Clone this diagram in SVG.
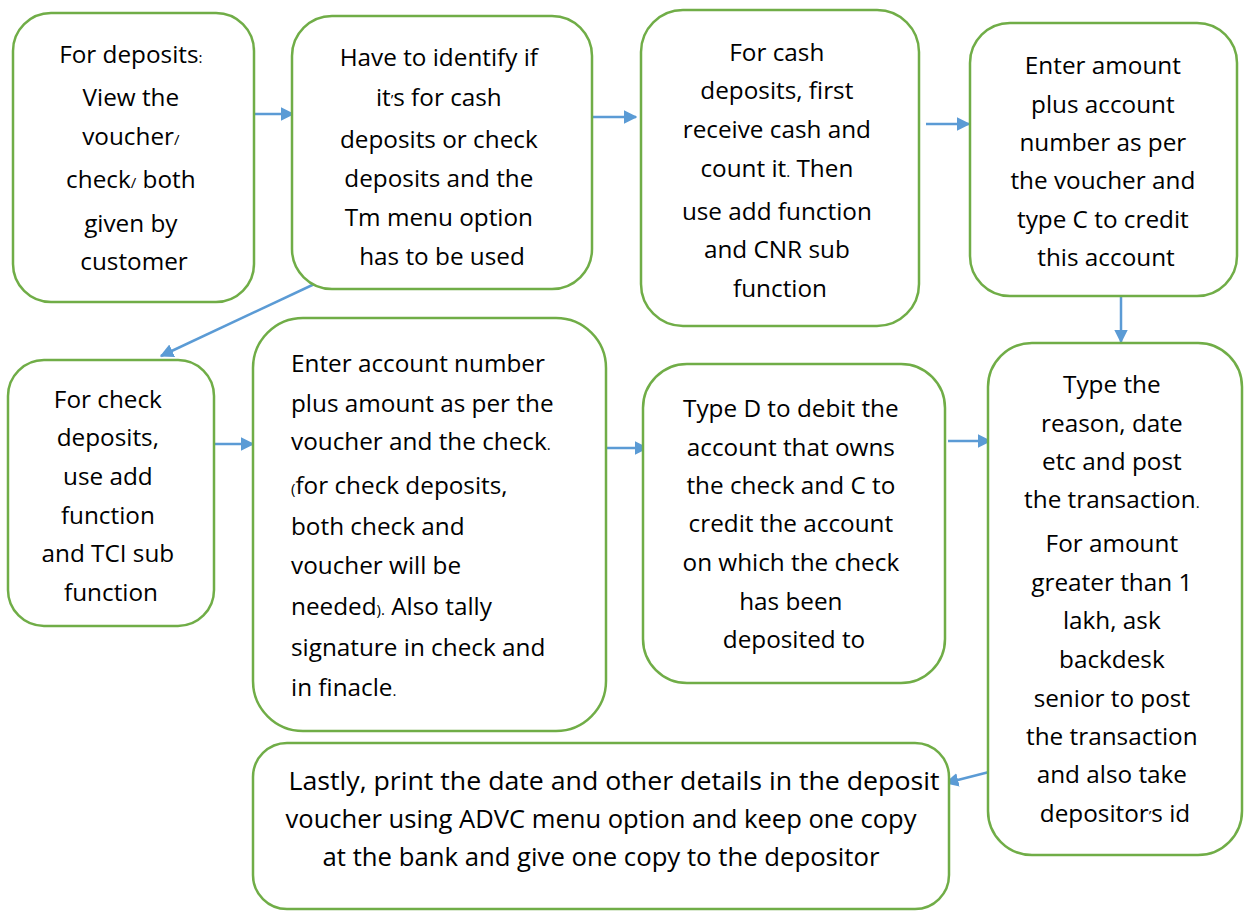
<svg xmlns="http://www.w3.org/2000/svg" width="1244" height="911" viewBox="0 0 1244 911">
  <defs>
    <marker id="arrow" viewBox="0 0 10 10" refX="9" refY="5" markerWidth="5.5" markerHeight="5.5" orient="auto" markerUnits="strokeWidth">
      <path d="M0,0 L10,5 L0,10 z" fill="#5B9BD5"/>
    </marker>
  </defs>
  <style>
    .box { fill: #ffffff; stroke: #70AD47; stroke-width: 2.5; }
    .lbl { font-family: "Open Sans", Lato, "Liberation Sans", sans-serif; font-size: 24.3px; fill: #000000; text-anchor: middle; }
    .left { text-anchor: start; }
    .wide { font-size: 25.5px; }
    .sm { font-size: 15px; }
    .conn { fill: none; stroke: #5B9BD5; stroke-width: 2.5; marker-end: url(#arrow); }
  </style>
  <rect width="1244" height="911" fill="#ffffff"/>

  <!-- connectors -->
  <g id="connectors">
    <line class="conn" x1="251" y1="114" x2="293" y2="114"/>
    <line class="conn" x1="592" y1="117" x2="636" y2="117"/>
    <line class="conn" x1="926" y1="124" x2="969" y2="124"/>
    <line class="conn" x1="1121" y1="297" x2="1121" y2="342"/>
    <line class="conn" x1="323" y1="280" x2="161" y2="356"/>
    <line class="conn" x1="211" y1="444" x2="253" y2="444"/>
    <line class="conn" x1="606" y1="448" x2="647" y2="448"/>
    <line class="conn" x1="948" y1="441" x2="990" y2="441"/>
    <line class="conn" x1="993" y1="771" x2="946" y2="783"/>
  </g>

  <!-- step: view voucher -->
  <g id="node-view">
    <rect class="box" x="13" y="13" width="241" height="289" rx="38"/>
    <text class="lbl">
      <tspan x="134" y="63">For deposits<tspan class="sm">:</tspan></tspan>
      <tspan x="134" y="106">View the</tspan>
      <tspan x="134" y="145">voucher<tspan class="sm">/</tspan></tspan>
      <tspan x="134" y="188">check<tspan class="sm">/</tspan> both</tspan>
      <tspan x="134" y="232">given by</tspan>
      <tspan x="134" y="270">customer</tspan>
    </text>
  </g>

  <!-- step: identify deposit type -->
  <g id="node-identify">
    <rect class="box" x="292" y="16" width="300" height="273" rx="40"/>
    <text class="lbl">
      <tspan x="442" y="66">Have to identify if</tspan>
      <tspan x="442" y="106">it<tspan class="sm" dy="-1">’</tspan><tspan dy="1">s for cash</tspan></tspan>
      <tspan x="442" y="148">deposits or check</tspan>
      <tspan x="442" y="187">deposits and the</tspan>
      <tspan x="442" y="226">Tm menu option</tspan>
      <tspan x="442" y="265">has to be used</tspan>
    </text>
  </g>

  <!-- step: cash deposits -->
  <g id="node-cash">
    <rect class="box" x="641" y="10" width="278" height="316" rx="42"/>
    <text class="lbl">
      <tspan x="780" y="61">For cash</tspan>
      <tspan x="780" y="99">deposits, first</tspan>
      <tspan x="780" y="138">receive cash and</tspan>
      <tspan x="780" y="177">count it<tspan class="sm">.</tspan> Then</tspan>
      <tspan x="780" y="220">use add function</tspan>
      <tspan x="780" y="258">and CNR sub</tspan>
      <tspan x="780" y="297">function</tspan>
    </text>
  </g>

  <!-- step: credit account -->
  <g id="node-credit">
    <rect class="box" x="970" y="23" width="267" height="273" rx="40"/>
    <text class="lbl">
      <tspan x="1106" y="74">Enter amount</tspan>
      <tspan x="1106" y="113">plus account</tspan>
      <tspan x="1106" y="151">number as per</tspan>
      <tspan x="1106" y="189">the voucher and</tspan>
      <tspan x="1106" y="228">type C to credit</tspan>
      <tspan x="1106" y="266">this account</tspan>
    </text>
  </g>

  <!-- step: check deposits -->
  <g id="node-check">
    <rect class="box" x="8" y="360" width="206" height="266" rx="36"/>
    <text class="lbl">
      <tspan x="111" y="408">For check</tspan>
      <tspan x="111" y="446">deposits,</tspan>
      <tspan x="111" y="485">use add</tspan>
      <tspan x="111" y="524">function</tspan>
      <tspan x="111" y="562">and TCI sub</tspan>
      <tspan x="111" y="601">function</tspan>
    </text>
  </g>

  <!-- step: enter account and amount -->
  <g id="node-enter">
    <rect class="box" x="253" y="318" width="353" height="413" rx="50"/>
    <text class="lbl left">
      <tspan x="291" y="372">Enter account number</tspan>
      <tspan x="291" y="412">plus amount as per the</tspan>
      <tspan x="291" y="450">voucher and the check<tspan class="sm">.</tspan></tspan>
      <tspan x="291" y="494"><tspan class="sm">(</tspan>for check deposits,</tspan>
      <tspan x="291" y="535">both check and</tspan>
      <tspan x="291" y="574">voucher will be</tspan>
      <tspan x="291" y="615">needed<tspan class="sm">).</tspan> Also tally</tspan>
      <tspan x="291" y="656">signature in check and</tspan>
      <tspan x="291" y="696">in finacle<tspan class="sm">.</tspan></tspan>
    </text>
  </g>

  <!-- step: debit and credit -->
  <g id="node-debit">
    <rect class="box" x="643" y="364" width="302" height="319" rx="44"/>
    <text class="lbl">
      <tspan x="794" y="417">Type D to debit the</tspan>
      <tspan x="794" y="456">account that owns</tspan>
      <tspan x="794" y="494">the check and C to</tspan>
      <tspan x="794" y="532">credit the account</tspan>
      <tspan x="794" y="571">on which the check</tspan>
      <tspan x="794" y="610">has been</tspan>
      <tspan x="794" y="648">deposited to</tspan>
    </text>
  </g>

  <!-- step: post transaction -->
  <g id="node-post">
    <rect class="box" x="988" y="343" width="254" height="512" rx="44"/>
    <text class="lbl">
      <tspan x="1115" y="393">Type the</tspan>
      <tspan x="1115" y="432">reason, date</tspan>
      <tspan x="1115" y="470">etc and post</tspan>
      <tspan x="1115" y="508">the transaction<tspan class="sm">.</tspan></tspan>
      <tspan x="1115" y="552">For amount</tspan>
      <tspan x="1115" y="591">greater than 1</tspan>
      <tspan x="1115" y="629">lakh, ask</tspan>
      <tspan x="1115" y="668">backdesk</tspan>
      <tspan x="1115" y="707">senior to post</tspan>
      <tspan x="1115" y="745">the transaction</tspan>
      <tspan x="1115" y="783">and also take</tspan>
      <tspan x="1115" y="822">depositor<tspan class="sm" dy="-1">’</tspan><tspan dy="1">s id</tspan></tspan>
    </text>
  </g>

  <!-- step: print voucher -->
  <g id="node-print">
    <rect class="box" x="253" y="743" width="696" height="166" rx="34"/>
    <text class="lbl wide" x="614" y="790" textLength="651" lengthAdjust="spacingAndGlyphs">Lastly, print the date and other details in the deposit</text>
    <text class="lbl wide" x="601" y="828" textLength="631" lengthAdjust="spacingAndGlyphs">voucher using ADVC menu option and keep one copy</text>
    <text class="lbl wide" x="601" y="866" textLength="557" lengthAdjust="spacingAndGlyphs">at the bank and give one copy to the depositor</text>
  </g>
</svg>
